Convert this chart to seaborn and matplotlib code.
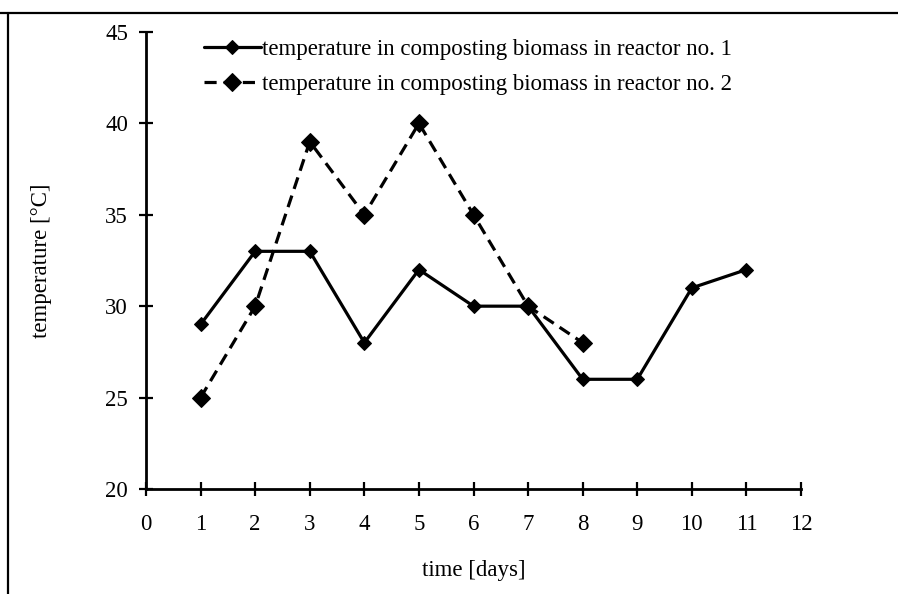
import pandas as pd
import matplotlib
matplotlib.use("Agg")
import matplotlib.pyplot as plt
import seaborn as sns
from matplotlib.lines import Line2D

# ---------------- data ----------------
days_r1 = [1, 2, 3, 4, 5, 6, 7, 8, 9, 10, 11]
temp_r1 = [29, 33, 33, 28, 32, 30, 30, 26, 26, 31, 32]
days_r2 = [1, 2, 3, 4, 5, 6, 7, 8]
temp_r2 = [25, 30, 39, 35, 40, 35, 30, 28]
label_r1 = "temperature in composting biomass in reactor no. 1"
label_r2 = "temperature in composting biomass in reactor no. 2"

df1 = pd.DataFrame({"day": days_r1, "temp": temp_r1})
df2 = pd.DataFrame({"day": days_r2, "temp": temp_r2})

sns.set_style("white")
plt.rcParams["font.family"] = ["Liberation Serif", "DejaVu Serif"]
plt.rcParams["text.color"] = "black"
plt.rcParams["axes.labelcolor"] = "black"

FS = 16.5

fig = plt.figure(figsize=(8.98, 5.94), dpi=100)
ax = fig.add_axes([0.1626, 0.1768, 0.7294, 0.7694])

sns.lineplot(data=df1, x="day", y="temp", ax=ax, color="black", linewidth=2.3,
             marker="D", markersize=7, markeredgecolor="black", label=label_r1)
sns.lineplot(data=df2, x="day", y="temp", ax=ax, color="black", linewidth=2.3,
             marker="D", markersize=9, markeredgecolor="black", label=label_r2)
ax.lines[1].set_dashes([3.8, 2.2])

ax.set_xlim(0, 12)
ax.set_ylim(20, 45)
ax.set_xticks(range(0, 13))
ax.set_yticks(range(20, 46, 5))
ax.set_xlabel("time [days]", fontsize=FS, labelpad=18)
ax.set_ylabel("temperature [°C]", fontsize=FS, labelpad=38)

for side in ["top", "right"]:
    ax.spines[side].set_visible(False)
for side in ["left", "bottom"]:
    ax.spines[side].set_linewidth(2)
    ax.spines[side].set_color("black")
ax.tick_params(axis="both", which="major", bottom=True, left=True,
               direction="inout", length=10, width=1.6,
               labelsize=FS, colors="black", pad=8)
ax.tick_params(axis="x", pad=13)

leg = ax.legend(loc="upper left", bbox_to_anchor=(0.074, 1.005), frameon=False,
                fontsize=FS, handlelength=2.5, handletextpad=0.05,
                labelspacing=0.6, borderaxespad=0)
for t in leg.get_texts():
    t.set_color("black")

# outer frame (top and left edges only visible)
fig.add_artist(Line2D([0, 1], [1 - 13 / 594, 1 - 13 / 594], color="black",
                      linewidth=1.6, transform=fig.transFigure))
fig.add_artist(Line2D([8 / 898, 8 / 898], [0, 1 - 13 / 594], color="black",
                      linewidth=1.6, transform=fig.transFigure))

fig.savefig("out.png", dpi=100)
